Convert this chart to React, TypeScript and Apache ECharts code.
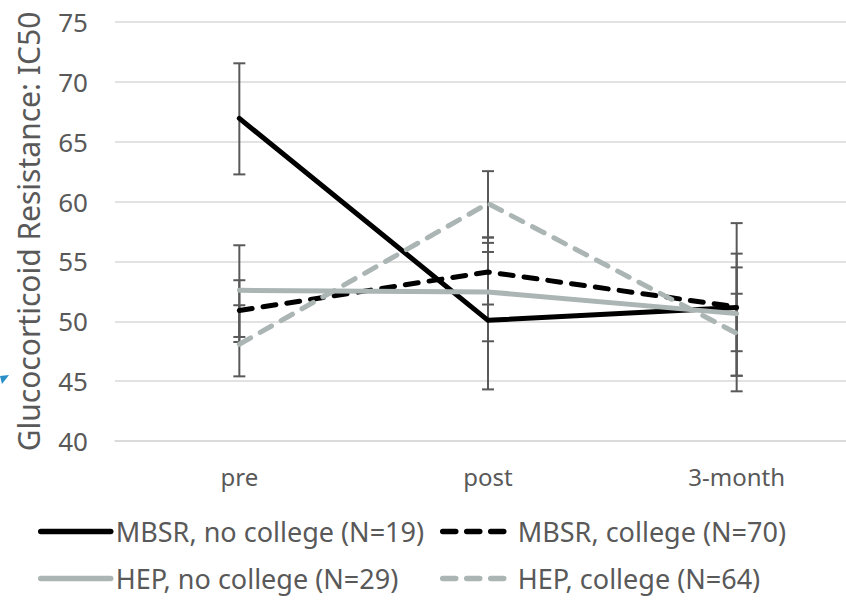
import React, { useEffect, useRef } from "react";
import * as echarts from "echarts";

const categories = ["pre", "post", "3-month"];
const yTicks = [40, 45, 50, 55, 60, 65, 70, 75];

const seriesNames = [
  "MBSR, no college (N=19)",
  "MBSR, college (N=70)",
  "HEP, no college (N=29)",
  "HEP, college (N=64)",
];

const mbsrNoCollege = [66.95, 50.08, 51.15];
const mbsrCollege = [50.9, 54.12, 51.2];
const hepNoCollege = [52.59, 52.45, 50.64];
const hepCollege = [48.08, 59.84, 49.0];

const mbsrNoCollegeLow = [62.27, 44.31, 44.15];
const mbsrNoCollegeHigh = [71.55, 55.79, 58.2];
const mbsrCollegeLow = [48.27, 51.4, 47.5];
const mbsrCollegeHigh = [53.43, 57.0, 54.5];
const hepNoCollegeLow = [48.69, 48.33, 45.45];
const hepNoCollegeHigh = [56.35, 56.55, 55.65];
const hepCollegeLow = [45.4, 57.0, 45.45];
const hepCollegeHigh = [51.34, 62.54, 52.3];

const BLACK = "#000000";
const GRAY = "#abb5b4";
const TEXT = "#595959";
const FONT = "'Noto Sans', sans-serif";

export default function App() {
  const ref = useRef<HTMLDivElement>(null);

  useEffect(() => {
    document.body.style.margin = "0";
    if (!ref.current) return;
    const chart = echarts.init(ref.current, null, { renderer: "svg" });

    const means = [mbsrNoCollege, mbsrCollege, hepNoCollege, hepCollege];
    const lows = [mbsrNoCollegeLow, mbsrCollegeLow, hepNoCollegeLow, hepCollegeLow];
    const highs = [mbsrNoCollegeHigh, mbsrCollegeHigh, hepNoCollegeHigh, hepCollegeHigh];
    const colors = [BLACK, BLACK, GRAY, GRAY];
    const dashed = [false, true, false, true];

    const errorData: number[][] = [];
    lows.forEach((lo, s) => {
      lo.forEach((v, i) => errorData.push([i, v, highs[s][i]]));
    });

    const lineSeries = means.map((m, s) => ({
      name: seriesNames[s],
      type: "line",
      data: m,
      symbol: "none",
      z: 3,
      lineStyle: {
        color: colors[s],
        width: 5,
        type: dashed[s] ? [13, 11] : "solid",
        cap: "round",
        join: "round",
      },
      itemStyle: { color: colors[s] },
    }));

    const legendCommon = {
      orient: "horizontal",
      padding: 0,
      itemWidth: 70,
      itemHeight: 14,
      selectedMode: false,
      itemStyle: { opacity: 0, borderWidth: 0 },
      lineStyle: { width: 5.5, cap: "round" },
      textStyle: { fontSize: 27, color: TEXT, fontFamily: FONT },
    };

    chart.setOption({
      animation: false,
      backgroundColor: "#ffffff",
      textStyle: { fontFamily: FONT },
      grid: { left: 115, right: 0, top: 22, bottom: 159 },
      legend: [
        { ...legendCommon, data: [seriesNames[0]], left: 38, top: 518 },
        { ...legendCommon, data: [seriesNames[1]], left: 440, top: 518 },
        { ...legendCommon, data: [seriesNames[2]], left: 38, top: 565 },
        { ...legendCommon, data: [seriesNames[3]], left: 440, top: 565 },
      ],
      xAxis: {
        type: "category",
        data: categories,
        boundaryGap: true,
        axisTick: { show: false },
        axisLine: { show: true, lineStyle: { color: "#d9d9d9", width: 1.5 } },
        axisLabel: { fontSize: 24, color: TEXT, fontFamily: FONT, margin: 23 },
      },
      yAxis: {
        type: "value",
        min: 40,
        max: 75,
        interval: 5,
        name: "Glucocorticoid Resistance: IC50",
        nameLocation: "middle",
        nameGap: 72,
        nameTextStyle: { fontSize: 30, color: TEXT, fontFamily: FONT },
        axisLine: { show: false },
        axisTick: { show: false },
        splitLine: { lineStyle: { color: "#d9d9d9", width: 1.5 } },
        axisLabel: {
          fontSize: 26,
          color: TEXT,
          fontFamily: FONT,
          margin: 27,
          formatter: (v: number) => (yTicks.indexOf(v) >= 0 ? String(v) : ""),
        },
      },
      series: [
        {
          type: "custom",
          name: "error",
          z: 2,
          data: errorData,
          encode: { x: 0, y: [1, 2] },
          renderItem: (params: any, api: any) => {
            const x = api.value(0);
            const pLo = api.coord([x, api.value(1)]);
            const pHi = api.coord([x, api.value(2)]);
            const w = 6;
            const st = { stroke: TEXT, lineWidth: 2 };
            return {
              type: "group",
              children: [
                { type: "line", shape: { x1: pLo[0], y1: pLo[1], x2: pHi[0], y2: pHi[1] }, style: st },
                { type: "line", shape: { x1: pLo[0] - w, y1: pLo[1], x2: pLo[0] + w, y2: pLo[1] }, style: st },
                { type: "line", shape: { x1: pHi[0] - w, y1: pHi[1], x2: pHi[0] + w, y2: pHi[1] }, style: st },
              ],
            };
          },
        },
        ...lineSeries,
      ],
      graphic: [
        {
          type: "polygon",
          shape: { points: [[0, 376], [9, 375], [2, 384]] },
          style: { fill: "#2a8fc6" },
        },
      ],
    });

    return () => chart.dispose();
  }, []);

  return (
    <div style={{ width: 846, height: 600, overflow: "hidden", position: "relative" }}>
      <div ref={ref} style={{ width: 861, height: 600 }} />
    </div>
  );
}
